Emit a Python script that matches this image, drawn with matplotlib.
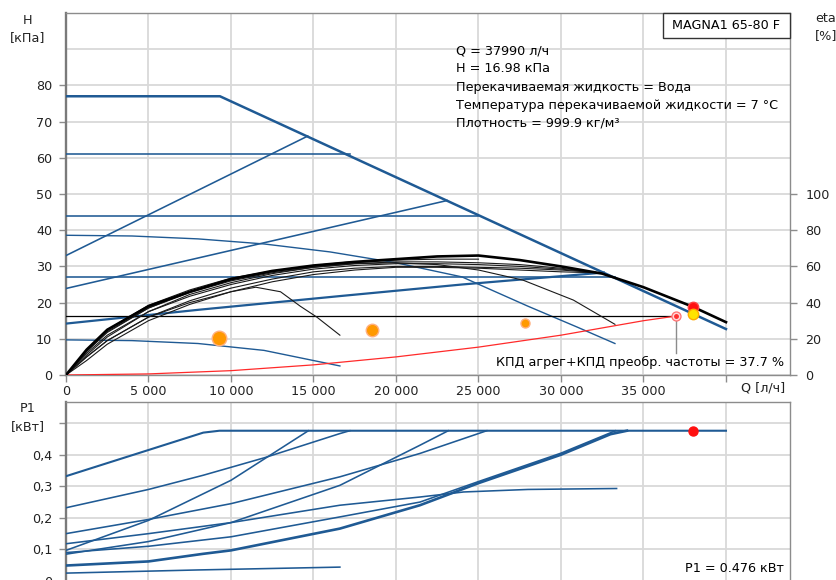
import matplotlib
matplotlib.use("Agg")
import matplotlib.pyplot as plt
from matplotlib.patches import Rectangle

plt.rcParams['font.family'] = ['DejaVu Sans']

# ---------------- data (top: H [kPa] vs Q [l/h]) ----------------
max_q = [0, 9330, 40000]
max_h = [77, 77, 12.7]

cp_levels = [61, 44, 27]
cp_end_q = [17200, 25000, 33250]

prop1_q = [0, 14650]
prop1_h = [33, 66]
prop2_q = [0, 23100]
prop2_h = [23.9, 48.2]
prop3_q = [0, 8000, 16600, 24000, 32600]
prop3_h = [14.2, 18.0, 21.8, 25.0, 28.3]

cchigh_q = [0, 4000, 8000, 12000, 16000, 20000, 24000, 28000, 31000, 33270]
cchigh_h = [38.6, 38.4, 37.6, 36.2, 34.0, 31.0, 27.1, 19.0, 13.2, 8.7]
cclow_q = [0, 4000, 8000, 12000, 16600]
cclow_h = [9.7, 9.5, 8.7, 6.8, 2.5]

sys_q = [0, 5000, 10000, 15000, 20000, 25000, 30000, 35000, 37000]
sys_h = [0, 0.3, 1.2, 2.8, 5.0, 7.7, 11.0, 15.0, 16.3]
guide_h = 16.3
guide_q_end = 37000

# efficiency curves (eta [%])
eta_max_q = [0, 1250, 2500, 5000, 7500, 10000, 12500, 15000, 17500, 20000, 22500,
             25000, 27500, 30000, 32500, 35000, 37990, 40000]
eta_max = [0, 14, 25, 38, 46, 53, 57.5, 60.5, 62.5, 64, 65.5, 66, 63.5, 60, 56, 48.5, 37.7, 29.2]

bundle_q = [0, 1250, 2500, 5000, 7500, 10000, 12500, 15000, 17500, 20000, 22500, 25000, 27500, 30000, 32400]
eta_b1 = [0, 10, 19, 32, 41, 48, 53, 57, 59, 60, 60, 59.5, 59, 58, 56.4]
eta_b2 = [0, 12, 22, 35, 43.5, 50, 55, 58.5, 60.5, 61.5, 61.5, 61, 60, 58.5, 56.4]
eta_b3 = [0, 13, 24, 37, 45.5, 52, 56.5, 59.5, 61.5, 62.5, 62.5, 62, 61, 59, 56.4]
eta_b4 = [0, 8, 17, 30, 39, 46, 51.5, 55.5, 58, 59.5, 59.5, 59, 58, 57, 56.4]

eta61_q = [0, 1250, 2500, 5000, 7500, 10000, 12500, 15000, 17200]
eta61 = [0, 14, 25, 38.5, 47, 53.5, 57.5, 60.5, 62.5]
eta44_q = [0, 1250, 2500, 5000, 7500, 10000, 12500, 15000, 17500, 20000, 22500, 25000]
eta44 = [0, 13, 23.5, 37, 46, 52.5, 57, 60, 62, 63.5, 64, 64]
etahi_q = [0, 1250, 2500, 5000, 7500, 10000, 12500, 15000, 17500, 20000, 22500, 25000, 27700,
           30750, 33270]
etahi = [0, 11, 21, 35, 44.5, 51, 56, 59.5, 61.5, 62, 61, 58, 52.4, 41.4, 28]
etalo_q = [0, 1250, 2500, 5000, 7500, 10000, 11500, 13000, 14200, 15200, 16600]
etalo = [0, 10, 19, 32, 40, 46, 48.5, 46, 38, 32, 22]

# markers
orange_q = [9270, 18550, 27800]
orange_h = [10.2, 12.4, 14.3]
orange_size = [10.5, 9, 6.5]
duty_q = 37990
duty_h = 16.98
duty_eta = 37.7
sys_pt_q = 37000
sys_pt_h = 16.3
duty_p1 = 0.476

# ---------------- data (bottom: P1 [kW]) ----------------
p_l1_q = [0, 8320, 9300, 40000]
p_l1 = [0.332, 0.470, 0.476, 0.476]
p_l2_q = [0, 5000, 8320, 12000, 16600, 17200]
p_l2 = [0.232, 0.29, 0.335, 0.39, 0.467, 0.476]
p_l3_q = [0, 5000, 10000, 14690]
p_l3 = [0.097, 0.192, 0.319, 0.476]
p_l4_q = [0, 5000, 10000, 16600, 21450, 25500]
p_l4 = [0.150, 0.195, 0.245, 0.33, 0.404, 0.476]
p_l5_q = [0, 5000, 10000, 16600, 21450, 23170]
p_l5 = [0.085, 0.125, 0.185, 0.303, 0.43, 0.476]
p_l6_q = [0, 5000, 10000, 16600, 21450, 25000, 30000, 33300]
p_l6 = [0.09, 0.11, 0.14, 0.203, 0.25, 0.315, 0.405, 0.476]
p_l7_q = [0, 5000, 8300, 10000, 16600, 21450, 25000, 30000, 33000, 34000]
p_l7 = [0.049, 0.062, 0.086, 0.097, 0.166, 0.24, 0.31, 0.40, 0.465, 0.476]
p_l9_q = [0, 5000, 10000, 16600, 21450, 24100, 28000, 33370]
p_l9 = [0.118, 0.15, 0.185, 0.24, 0.266, 0.282, 0.29, 0.293]
p_l10_q = [0, 8000, 16600]
p_l10 = [0.025, 0.035, 0.044]

x_ticks = [0, 5000, 10000, 15000, 20000, 25000, 30000, 35000, 40000]
x_labels = ['0', '5 000', '10 000', '15 000', '20 000', '25 000', '30 000', '35 000', '']
h_ticks = [0, 10, 20, 30, 40, 50, 60, 70, 80]
eta_ticks = [0, 20, 40, 60, 80, 100]
p_ticks = [0, 0.1, 0.2, 0.3, 0.4, 0.5]
p_labels = ['0', '0,1', '0,2', '0,3', '0,4', '']

info_lines = ['Q = 37990 л/ч', 'H = 16.98 кПа', 'Перекачиваемая жидкость = Вода',
              'Температура перекачиваемой жидкости = 7 °C', 'Плотность = 999.9 кг/м³']

# ---------------- styling ----------------
W, H = 837, 580
BLUE = '#1f5a94'
GRID = '#d9d9d9'
SPINE = '#8c8c8c'
TXT = '#222222'
FS = 9.2

fig = plt.figure(figsize=(W / 100, H / 100), dpi=100)

def frac(l, t, r, b):
    return [l / W, 1 - b / H, (r - l) / W, (b - t) / H]

def fx(x):
    return x / W

def fy(y):
    return 1 - y / H

ax = fig.add_axes(frac(66, 13, 790, 375))
axp = fig.add_axes(frac(66, 402, 790, 581))

for a in (ax, axp):
    a.set_xlim(0, 43880)
    a.set_xticks(x_ticks)
    a.grid(True, color=GRID, lw=1.3, zorder=0)
    a.set_axisbelow(True)
    for s in a.spines.values():
        s.set_color(SPINE)
        s.set_linewidth(1.0)
    a.spines['left'].set_linewidth(1.7)
    a.spines['left'].set_color('#7a7a7a')
    a.tick_params(colors=SPINE, labelcolor=TXT, labelsize=FS, length=5, width=1)
    a.tick_params(axis='y', pad=5)

ax.set_ylim(0, 100)
ax.set_yticks(h_ticks)
ax.axhline(90, color=GRID, lw=1.3, zorder=0)
ax.set_xticklabels(x_labels)
ax.tick_params(axis='x', pad=2)

LW = 1.15
# blue QH curves
ax.plot(max_q, max_h, color=BLUE, lw=1.8, zorder=3)
for lvl, qe in zip(cp_levels, cp_end_q):
    ax.plot([0, qe], [lvl, lvl], color=BLUE, lw=LW, zorder=3)
ax.plot(prop1_q, prop1_h, color=BLUE, lw=LW, zorder=3)
ax.plot(prop2_q, prop2_h, color=BLUE, lw=LW, zorder=3)
ax.plot(prop3_q, prop3_h, color=BLUE, lw=1.6, zorder=3)
ax.plot(cchigh_q, cchigh_h, color=BLUE, lw=1.0, zorder=3)
ax.plot(cclow_q, cclow_h, color=BLUE, lw=1.0, zorder=3)

# guide line and system curve
ax.plot([0, guide_q_end], [guide_h, guide_h], color='black', lw=0.9, zorder=3)
ax.plot(sys_q, sys_h, color='#ff2a2a', lw=0.9, zorder=4)

# efficiency curves on twin axis
ax2 = ax.twinx()
ax2.set_ylim(0, 200)
ax2.set_yticks(eta_ticks)
ax2.tick_params(colors=SPINE, labelcolor=TXT, labelsize=FS, length=5, width=1, pad=6)
for s in ax2.spines.values():
    s.set_visible(False)
for qq, ee in [(bundle_q, eta_b1), (bundle_q, eta_b2), (bundle_q, eta_b3), (bundle_q, eta_b4),
               (eta61_q, eta61), (eta44_q, eta44), (etahi_q, etahi), (etalo_q, etalo)]:
    ax2.plot(qq, ee, color='#1a1a1a', lw=0.8, zorder=3)
ax2.plot(eta_max_q, eta_max, color='black', lw=1.9, zorder=3)
ax2.plot([duty_q], [duty_eta], 'o', ms=7.5, color='#ff1010', mec='#ff4040', zorder=6)

# markers on H axis (drawn on ax2 in eta units: eta = 2 * H)
for qo, ho, so in zip(orange_q, orange_h, orange_size):
    ax2.plot([qo], [ho * 2], 'o', ms=so, color='#ff9900', mec='#ffb080', mew=1.0, zorder=6)
ax2.plot([sys_pt_q, sys_pt_q], [sys_pt_h * 2, 12.2], color='#8c8c8c', lw=1.0, zorder=5)
ax2.plot([sys_pt_q], [sys_pt_h * 2], 'o', ms=6.5, mfc='#ffd6d6', mec='#ff7070', mew=0.9, zorder=6)
ax2.plot([sys_pt_q], [sys_pt_h * 2], 'o', ms=2.5, color='#ff3030', zorder=7)
ax2.plot([duty_q], [duty_h * 2], 'o', ms=7.5, color='#ffe400', mec='#ffaa00', mew=1.0, zorder=7)

# texts top
fig.text(fx(28), fy(20), 'H', ha='center', va='center', fontsize=FS, color=TXT)
fig.text(fx(28), fy(38), '[кПа]', ha='center', va='center', fontsize=FS, color=TXT)
fig.text(fx(826), fy(18), 'eta', ha='center', va='center', fontsize=FS, color=TXT)
fig.text(fx(826), fy(36), '[%]', ha='center', va='center', fontsize=FS, color=TXT)
fig.text(fx(785), fy(388), 'Q [л/ч]', ha='right', va='center', fontsize=FS, color=TXT)
for i, yy in enumerate([51, 69, 87, 105, 123]):
    fig.text(fx(456), fy(yy), info_lines[i], ha='left', va='center', fontsize=FS, color='black')
fig.patches.append(Rectangle((fx(663), fy(38)), fx(790) - fx(663), fy(13) - fy(38),
                             transform=fig.transFigure, fc='white', ec='#333333', lw=1.0, zorder=10))
fig.text(fx(726.5), fy(25.5), 'MAGNA1 65-80 F', ha='center', va='center', fontsize=FS, color='black',
         zorder=11)
fig.text(fx(784), fy(362), 'КПД агрег+КПД преобр. частоты = 37.7 %', ha='right', va='center',
         fontsize=FS, color='black')

# bottom plot
axp.set_ylim(0, 0.567)
axp.set_yticks(p_ticks)
axp.set_yticklabels(p_labels)
axp.tick_params(axis='x', length=0, labelbottom=False)
for qq, pp in [(p_l2_q, p_l2), (p_l3_q, p_l3), (p_l4_q, p_l4), (p_l5_q, p_l5),
               (p_l6_q, p_l6), (p_l9_q, p_l9), (p_l10_q, p_l10)]:
    axp.plot(qq, pp, color=BLUE, lw=LW, zorder=3)
axp.plot(p_l1_q, p_l1, color=BLUE, lw=1.5, zorder=3)
axp.plot(p_l7_q, p_l7, color=BLUE, lw=1.9, zorder=3)
axp.plot([duty_q], [duty_p1], 'o', ms=6.5, color='#ff1010', zorder=6)
fig.text(fx(28), fy(408), 'P1', ha='center', va='center', fontsize=FS, color=TXT)
fig.text(fx(28), fy(427), '[кВт]', ha='center', va='center', fontsize=FS, color=TXT)
fig.text(fx(784), fy(568), 'P1 = 0.476 кВт', ha='right', va='center', fontsize=FS, color='black')

fig.savefig('out.png', dpi=100)
